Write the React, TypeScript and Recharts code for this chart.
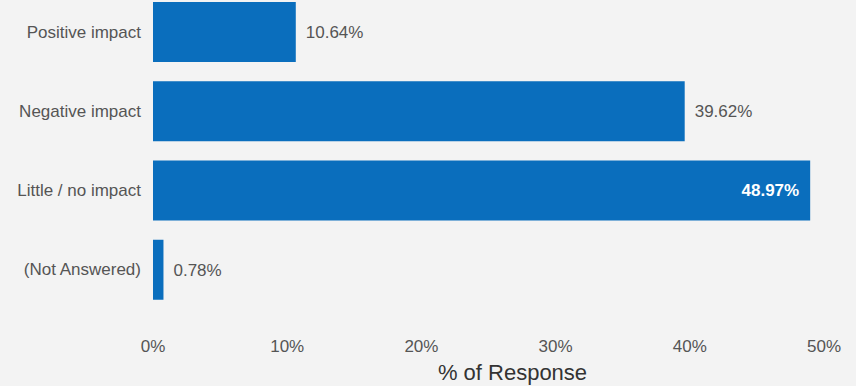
import { BarChart, Bar, XAxis, YAxis, LabelList } from "recharts";

const categories = ["Positive impact", "Negative impact", "Little / no impact", "(Not Answered)"];
const shares = [10.64, 39.62, 48.97, 0.78];
const xTicks = [0, 10, 20, 30, 40, 50];

const data = categories.map((name, i) => ({ name, value: shares[i] }));

const FONT = "'Liberation Sans', Arial, sans-serif";
const BLUE = "#0a6ebd";
const TICK = { fontSize: 17, fill: "#555", fontFamily: FONT };

function ValueLabel(props: any) {
  const { x, y, width, height, value } = props;
  const inside = value >= 45;
  const cy = y + height / 2;
  if (inside) {
    return (
      <text x={x + width - 11} y={cy} dy="0.35em" textAnchor="end" fill="#fff" fontSize={17} fontWeight={600} fontFamily={FONT}>
        {value.toFixed(2)}%
      </text>
    );
  }
  return (
    <text x={x + width + 10} y={cy} dy="0.35em" textAnchor="start" fill="#555" fontSize={17} fontFamily={FONT}>
      {value.toFixed(2)}%
    </text>
  );
}

export default function App() {
  return (
    <div style={{ position: "absolute", left: 0, top: 0, width: 856, height: 386, overflow: "hidden", background: "#f3f3f3" }}>
      <div style={{ marginTop: -8 }}>
        <BarChart
          width={856}
          height={394}
          data={data}
          layout="vertical"
          margin={{ top: 0, right: 32, left: 0, bottom: 0 }}
          barSize={60}
        >
          <XAxis
            type="number"
            domain={[0, 50]}
            ticks={xTicks}
            tickFormatter={(v) => `${v}%`}
            tick={TICK}
            tickLine={false}
            axisLine={false}
            tickMargin={25}
            height={77}
            label={{ value: "% of Response", position: "insideBottom", offset: 6, dx: 24, fontSize: 22, fill: "#333", fontFamily: FONT }}
          />
          <YAxis
            type="category"
            dataKey="name"
            width={153}
            tick={TICK}
            tickLine={false}
            axisLine={false}
            tickMargin={6}
          />
          <Bar dataKey="value" fill={BLUE} isAnimationActive={false}>
            <LabelList dataKey="value" content={ValueLabel} />
          </Bar>
        </BarChart>
      </div>
    </div>
  );
}
